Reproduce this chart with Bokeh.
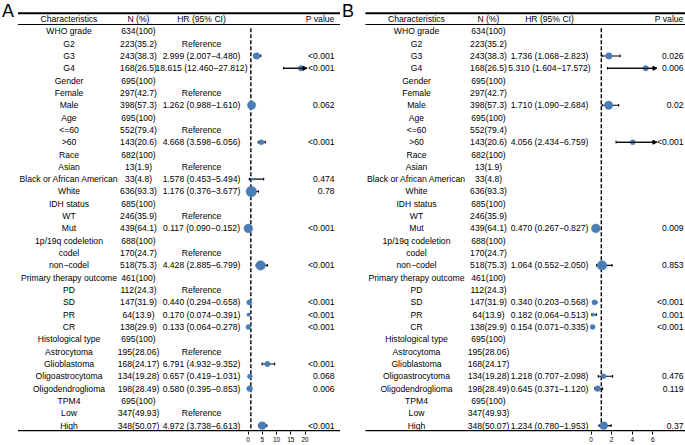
import math
from bokeh.plotting import figure
from bokeh.models import Range1d, LinearAxis, FixedTicker, ColumnDataSource, Arrow, NormalHead
from bokeh.layouts import row
from bokeh.embed import file_html
from bokeh.resources import INLINE
from bokeh.core.properties import value

# ---------------- data ----------------
characteristics = ["WHO grade", "G2", "G3", "G4", "Gender", "Female", "Male", "Age", "<=60", ">60",
                   "Race", "Asian", "Black or African American", "White", "IDH status", "WT", "Mut",
                   "1p/19q codeletion", "codel", "non\u2212codel", "Primary therapy outcome", "PD", "SD",
                   "PR", "CR", "Histological type", "Astrocytoma", "Glioblastoma", "Oligoastrocytoma",
                   "Oligodendroglioma", "TPM4", "Low", "High"]
n_count = [634, 223, 243, 168, 695, 297, 398, 695, 552, 143, 682, 13, 33, 636, 685, 246, 439, 688,
           170, 518, 461, 112, 147, 64, 138, 695, 195, 168, 134, 198, 695, 347, 348]
n_pct = ["100", "35.2", "38.3", "26.5", "100", "42.7", "57.3", "100", "79.4", "20.6", "100", "1.9",
         "4.8", "93.3", "100", "35.9", "64.1", "100", "24.7", "75.3", "100", "24.3", "31.9", "13.9",
         "29.9", "100", "28.06", "24.17", "19.28", "28.49", "100", "49.93", "50.07"]
reference_rows = ["G2", "Female", "<=60", "Asian", "WT", "codel", "PD", "Astrocytoma", "Low"]

# Panel A: univariate Cox
a_rows = ["G3", "G4", "Male", ">60", "Black or African American", "White", "Mut", "non\u2212codel",
          "SD", "PR", "CR", "Glioblastoma", "Oligoastrocytoma", "Oligodendroglioma", "High"]
a_hr = [2.999, 18.615, 1.262, 4.668, 1.578, 1.176, 0.117, 4.428, 0.440, 0.170, 0.133, 6.791, 0.657, 0.580, 4.972]
a_lo = [2.007, 12.460, 0.988, 3.598, 0.453, 0.376, 0.090, 2.885, 0.294, 0.074, 0.064, 4.932, 0.419, 0.395, 3.738]
a_hi = [4.480, 27.812, 1.610, 6.056, 5.494, 3.677, 0.152, 6.799, 0.658, 0.391, 0.278, 9.352, 1.031, 0.853, 6.613]
a_p = ["<0.001", "<0.001", "0.062", "<0.001", "0.474", "0.78", "<0.001", "<0.001", "<0.001", "<0.001",
       "<0.001", "<0.001", "0.068", "0.006", "<0.001"]
a_ticks = [0, 5, 10, 15, 20]
a_xlim = (0, 20.7)

# Panel B: multivariate Cox
b_rows = ["G3", "G4", "Male", ">60", "Mut", "non\u2212codel", "SD", "PR", "CR", "Oligoastrocytoma",
          "Oligodendroglioma", "High"]
b_hr = [1.736, 5.310, 1.710, 4.056, 0.470, 1.064, 0.340, 0.182, 0.154, 1.218, 0.645, 1.234]
b_lo = [1.068, 1.604, 1.090, 2.434, 0.267, 0.552, 0.203, 0.064, 0.071, 0.707, 0.371, 0.780]
b_hi = [2.823, 17.572, 2.684, 6.759, 0.827, 2.050, 0.568, 0.513, 0.335, 2.098, 1.120, 1.953]
b_p = ["0.026", "0.006", "0.02", "<0.001", "0.009", "0.853", "<0.001", "0.001", "<0.001", "0.476",
       "0.119", "0.37"]
b_ticks = [0, 2, 4, 6]
b_xlim = (0, 6.4)

headers = ["Characteristics", "N (%)", "HR (95% CI)", "P value"]

# ---------------- style / layout ----------------
FONT = value("Liberation Sans")
FS = "8.6px"
BLUE = "#4A7DB5"
FRAME_H = 431
Y_TOP, Y_BOT = -2.5, 32.48
SIZE_K = 0.42
REF_HR = 1


def panel(letter, x0, width, col_char, col_n, col_hr, col_p, line_x0, zero_px, px_unit,
          rows_, hr, lo, hi, pv, ticks, xlim, show_ref):
    p = figure(frame_width=width, frame_height=FRAME_H, output_backend="svg", toolbar_location=None,
               x_range=Range1d(x0, x0 + width), y_range=Range1d(Y_BOT, Y_TOP),
               x_axis_type=None, y_axis_type=None, min_border=0,
               background_fill_color="white", border_fill_color="white", outline_line_color=None)
    p.grid.visible = False
    p.extra_x_ranges = {"hr": Range1d((x0 - zero_px) / px_unit, (x0 + width - zero_px) / px_unit)}

    idx = list(range(len(characteristics)))
    n_text = [f"{n}({q})" for n, q in zip(n_count, n_pct)]
    hr_text, p_text = [], []
    for c in characteristics:
        if c in rows_:
            k = rows_.index(c)
            hr_text.append(f"{hr[k]:.3f} ({lo[k]:.3f}\u2212{hi[k]:.3f})")
            p_text.append(pv[k])
        elif c in reference_rows and show_ref:
            hr_text.append("Reference")
            p_text.append("")
        else:
            hr_text.append("")
            p_text.append("")

    common = dict(text_font=FONT, text_font_size=FS, text_color="black", text_baseline="middle")
    p.text(x=col_char, y=idx, text=characteristics, text_align="center", **common)
    p.text(x=col_n, y=idx, text=n_text, text_align="center", **common)
    p.text(x=col_hr, y=idx, text=hr_text, text_align="center", **common)
    p.text(x=col_p, y=idx, text=p_text, text_align="right", **common)
    # header
    p.text(x=[col_char, col_n, col_hr], y=[-1, -1, -1], text=headers[:3], text_align="center", **common)
    p.text(x=[col_p], y=[-1], text=headers[3:], text_align="right", **common)
    # panel letter
    p.text(x=[x0 + 1.5], y=[-1.62], text=[letter], text_align="left", text_baseline="middle",
           text_font=FONT, text_font_size="18px", text_color="black")

    # table rules
    x1 = x0 + width
    p.segment(x0=[line_x0], y0=[-1.47], x1=[x1], y1=[-1.47], line_color="black", line_width=2)
    p.segment(x0=[line_x0], y0=[-0.55], x1=[x1], y1=[-0.55], line_color="black", line_width=1.1)
    p.segment(x0=[line_x0], y0=[32.42], x1=[x1], y1=[32.42], line_color="black", line_width=1.6)

    # reference line
    p.segment(x0=[REF_HR], y0=[-0.25], x1=[REF_HR], y1=[32.42], x_range_name="hr",
              line_color="black", line_width=1.4, line_dash="4 2")

    # forest
    ys = [characteristics.index(c) for c in rows_]
    hi_c = [min(h, xlim[1]) for h in hi]
    clipped = [h > xlim[1] for h in hi]
    p.segment(x0=lo, y0=ys, x1=hi_c, y1=ys, x_range_name="hr", line_color="black", line_width=1.1)
    cap = 0.11
    p.segment(x0=lo, y0=[y - cap for y in ys], x1=lo, y1=[y + cap for y in ys], x_range_name="hr",
              line_color="black", line_width=1.1)
    cx = [h for h, c in zip(hi, clipped) if not c]
    cy = [y for y, c in zip(ys, clipped) if not c]
    p.segment(x0=cx, y0=[y - cap for y in cy], x1=cx, y1=[y + cap for y in cy], x_range_name="hr",
              line_color="black", line_width=1.1)
    ax_src = ColumnDataSource(dict(xs=[l for l, c in zip(lo, clipped) if c],
                                   xe=[xlim[1] for c in clipped if c],
                                   y=[y for y, c in zip(ys, clipped) if c]))
    p.add_layout(Arrow(end=NormalHead(size=4, fill_color="black", line_color="black", line_width=1),
                       x_start="xs", y_start="y", x_end="xe", y_end="y", source=ax_src,
                       x_range_name="hr", line_color="black", line_width=1.1))
    sizes = [SIZE_K * math.sqrt(n_count[y]) for y in ys]
    p.scatter(x=hr, y=ys, size=sizes, x_range_name="hr", marker="circle",
              fill_color=BLUE, line_color=BLUE, line_width=0.5)

    axis = LinearAxis(x_range_name="hr", ticker=FixedTicker(ticks=ticks), axis_line_color=None,
                      major_tick_out=3, major_tick_in=0, minor_tick_line_color=None,
                      major_tick_line_color="black", major_tick_line_width=1,
                      major_label_standoff=2, major_label_text_font="Liberation Sans",
                      major_label_text_font_size="6.5px", major_label_text_color="black")
    p.add_layout(axis, "below")
    return p


pA = panel("A", 0, 340, 68.5, 138, 201, 334, 17.5, 247.5, 2.85,
           a_rows, a_hr, a_lo, a_hi, a_p, a_ticks, a_xlim, True)
pB = panel("B", 340, 345, 416, 488, 549, 683, 365, 590.5, 10.3,
           b_rows, b_hr, b_lo, b_hi, b_p, b_ticks, b_xlim, False)

layout = row(pA, pB, spacing=0)
open("out.html", "w").write(file_html(layout, INLINE))
